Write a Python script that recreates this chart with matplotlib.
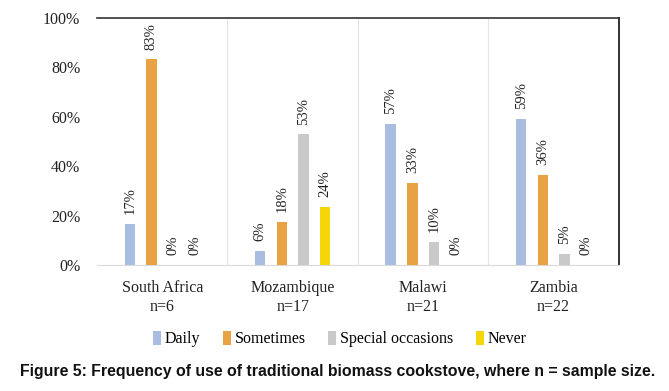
import matplotlib
matplotlib.use("Agg")
import matplotlib.pyplot as plt
import numpy as np

# data (percent of households)
countries = ["South Africa\nn=6", "Mozambique\nn=17", "Malawi\nn=21", "Zambia\nn=22"]
daily = [16.7, 5.9, 57.1, 59.1]
sometimes = [83.3, 17.6, 33.3, 36.4]
special = [0.0, 52.9, 9.5, 4.6]
never = [0.0, 23.5, 0.0, 0.0]

series_names = ["Daily", "Sometimes", "Special occasions", "Never"]
series_colors = ["#A9BDE0", "#E8A244", "#C9C9C9", "#F5D60A"]
yticks = [0, 20, 40, 60, 80, 100]

serif = "Liberation Serif"

fig = plt.figure(figsize=(6.69, 3.91), dpi=100)
ax = fig.add_axes([0.145, 0.322, 0.78, 0.632])

x = np.arange(len(countries))
step = 0.166
width = 0.08
for i, (vals, name, col) in enumerate(zip([daily, sometimes, special, never],
                                          series_names, series_colors)):
    pos = x + (i - 1.5) * step
    ax.bar(pos, vals, width=width, color=col, label=name, zorder=3)
    for xp, v in zip(pos, vals):
        ax.annotate("%d%%" % int(v + 0.5), (xp, v), xytext=(0, 7),
                    textcoords="offset points", rotation=90,
                    ha="center", va="bottom", fontsize=10.5,
                    family=serif, color="#222222")

# light separators between the country groups
for b in [0.5, 1.5, 2.5]:
    ax.axvline(b, color="#E4E4E4", lw=0.8, zorder=1)

ax.set_xlim(-0.5, 3.5)
ax.set_ylim(0, 100)
ax.set_yticks(yticks)
ax.set_yticklabels(["%d%%" % t for t in yticks], family=serif, fontsize=11.5)
ax.set_xticks(x)
ax.set_xticklabels(countries, family=serif, fontsize=11.5, linespacing=1.25)
ax.tick_params(axis="both", length=0, colors="#222222")
ax.tick_params(axis="y", pad=12)
ax.tick_params(axis="x", pad=11)

ax.spines["left"].set_visible(False)
ax.spines["bottom"].set_color("#D9D9D9")
ax.spines["top"].set_color("#333333")
ax.spines["right"].set_color("#111111")
ax.spines["top"].set_linewidth(1.2)
ax.spines["right"].set_linewidth(1.2)

fig.legend(loc="center", bbox_to_anchor=(0.508, 0.132), ncol=4, frameon=False,
           prop={"family": serif, "size": 11.5}, handlelength=0.5,
           handleheight=0.9, handletextpad=0.25, columnspacing=1.4)

fig.text(0.505, 0.051,
         "Figure 5: Frequency of use of traditional biomass cookstove, where n = sample size.",
         ha="center", va="center", fontsize=11.4, fontweight="bold",
         family="Liberation Sans", color="#111111")

fig.savefig("out.png", dpi=100)
